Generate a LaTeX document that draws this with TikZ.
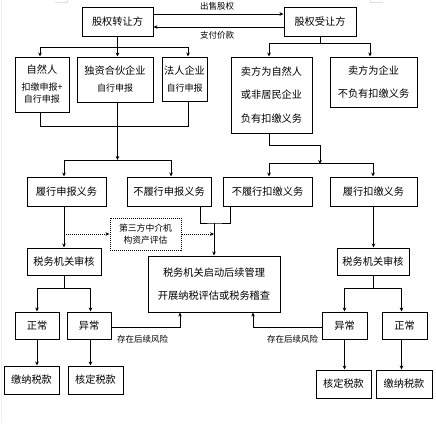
\documentclass[tikz,border=0pt]{standalone}
\usepackage{fontspec}
\setmainfont{Noto Sans CJK SC}
\usetikzlibrary{arrows.meta,calc}
\begin{document}
\begin{tikzpicture}[x=1pt,y=-1pt,
  box/.style={draw,line width=1pt,inner sep=0pt,align=center,font=\fontsize{10.2}{12}\selectfont},
  dbox/.style={draw,densely dotted,line width=1pt,inner sep=0pt,align=center,font=\fontsize{8.8}{12.5}\selectfont},
  ln/.style={line width=1pt},
  arr/.style={-{Stealth[length=4pt,width=3.6pt]}},
  dln/.style={densely dotted,line width=1pt},
  lbl/.style={inner sep=0pt,font=\fontsize{8.5}{10}\selectfont}]
\useasboundingbox (0,0) rectangle (436,423);
\fill[white] (0,0) rectangle (436,423);
% faint page marks
\draw[gray!25,line width=0.5pt] (55,2) -- (67,2) -- (67,0);
\draw[gray!25,line width=0.5pt] (370,0) -- (370,2) -- (383,2);
\draw[gray!12,line width=0.5pt] (1,0) -- (1,423);

% top row
\node[box,minimum width=71pt,minimum height=29pt] (A) at (117.5,21.5) {股权转让方};
\node[box,minimum width=72pt,minimum height=29pt] (B) at (320,21.5) {股权受让方};
% second row
\node[box,minimum width=54pt,minimum height=55pt] (C) at (42,84.5)
  {自然人\\[5pt]{\fontsize{9}{11}\selectfont 扣缴申报+}\\{\fontsize{9}{11}\selectfont 自行申报}};
\node[box,minimum width=76pt,minimum height=45pt] (D) at (115,79.5)
  {独资合伙企业\\[5pt]{\fontsize{9}{11}\selectfont 自行申报}};
\node[box,minimum width=45pt,minimum height=44pt] (E) at (184.5,79)
  {法人企业\\[5pt]{\fontsize{9}{11}\selectfont 自行申报}};
\node[box,minimum width=81pt,minimum height=76pt,font=\fontsize{10.2}{23.5}\selectfont] (F) at (271.5,95)
  {卖方为自然人\\或非居民企业\\负有扣缴义务};
\node[box,minimum width=87pt,minimum height=50pt,font=\fontsize{10.2}{23}\selectfont] (G) at (373.5,82)
  {卖方为企业\\不负有扣缴义务};
% third row
\node[box,minimum width=79pt,minimum height=29pt] (H) at (66.5,191.5) {履行申报义务};
\node[box,minimum width=84pt,minimum height=29pt] (I) at (169,191.5) {不履行申报义务};
\node[box,minimum width=89pt,minimum height=29pt] (J) at (267.5,191.5) {不履行扣缴义务};
\node[box,minimum width=87pt,minimum height=29pt] (K) at (373.5,191.5) {履行扣缴义务};
% middle
\node[dbox,minimum width=71pt,minimum height=32pt] (T) at (145.5,234) {第三方中介机\\构资产评估};
\node[box,minimum width=74pt,minimum height=27pt] (L) at (64,261.5) {税务机关审核};
\node[box,minimum width=72pt,minimum height=27pt] (M) at (373,261.5) {税务机关审核};
\node[box,minimum width=132pt,minimum height=56pt,font=\fontsize{10.2}{23}\selectfont] (N) at (214,284)
  {税务机关启动后续管理\\开展纳税评估或税务稽查};
% lower
\node[box,minimum width=44pt,minimum height=27pt] (O) at (37,325.5) {正常};
\node[box,minimum width=44pt,minimum height=27pt] (P) at (89,325.5) {异常};
\node[box,minimum width=45pt,minimum height=27pt] (Q) at (344.5,325.5) {异常};
\node[box,minimum width=45pt,minimum height=27pt] (R) at (404.5,325.5) {正常};
\node[box,minimum width=55pt,minimum height=28pt] (S) at (31.5,380) {缴纳税款};
\node[box,minimum width=55pt,minimum height=28pt] (U) at (95.5,380) {核定税款};
\node[box,minimum width=55pt,minimum height=28pt] (V) at (343.5,384) {核定税款};
\node[box,minimum width=56pt,minimum height=28pt] (W) at (404,384) {缴纳税款};

% top exchange
\draw[ln,arr] (A.east |- 0,14) -- (B.west |- 0,14);
\draw[ln,arr] (B.west |- 0,27) -- (A.east |- 0,27);
\node[lbl] (l1) at (217,6) {出售股权};
\node[lbl] (l2) at (217,35) {支付价款};

% left branch
\draw[ln] (A.south) -- (A.south |- 0,47) coordinate (j1);
\draw[ln,arr] (j1) -- (A.south |- D.north);
\draw[ln,arr] (j1) -| ([xshift=-2pt]C.north);
\draw[ln,arr] (j1) -| ([xshift=3.5pt]E.north);
% right branch
\draw[ln] (B.south) -- (B.south |- 0,43) coordinate (j2);
\draw[ln,arr] (j2) -| ([xshift=-2.5pt]F.north);
\draw[ln,arr] (j2) -| ([xshift=-3.5pt]G.north);

% merge left
\draw[ln] ([xshift=-2pt]C.south) -- ([xshift=-2pt]C.south |- 0,126) -- ([xshift=3.5pt]E.south |- 0,126) -- ([xshift=3.5pt]E.south);
\coordinate (j3) at (117.5,160);
\draw[ln,arr] (j3 |- D.south) -- (j3);
\draw[ln,arr] (j3) -| ([xshift=-2.5pt]H.north);
\draw[ln,arr] (j3) -| ([xshift=2pt]I.north);
% merge right
\coordinate (j4) at (320,163);
\draw[ln,arr] ([xshift=-2.5pt]F.south) -- ([xshift=-2.5pt]F.south |- 0,145) -| ([yshift=-1pt]j4);
\draw[ln,arr] (j4) -| ([xshift=1.5pt]J.north);
\draw[ln,arr] (j4) -| ([xshift=-0.5pt]K.north);

% non-compliance to management
\coordinate (j5) at (214,223);
\draw[ln] ([xshift=31pt]I.south) |- (j5) -| ([xshift=-37.5pt]J.south);
\draw[ln,arr] (j5) -- (j5 |- N.north);

% declaration path
\draw[ln,arr] (L.north |- H.south) -- (L.north);
\draw[dln,arr] (L.north |- T.west) -- (T.west);
\draw[dln,arr] (T.east) -- (T.east -| j5);
\draw[ln,arr] (K.south) -- (K.south |- M.north);

% left review
\draw[ln] (L.south) -- (L.south |- 0,288) coordinate (j6);
\draw[ln,arr] (j6) -| (O.north);
\draw[ln,arr] (j6) -| ([xshift=1.5pt]P.north);
\draw[ln,arr] (O.south) -- (O.south |- S.north);
\draw[ln,arr] ([xshift=1.5pt]P.south) -- ([xshift=1.5pt]P.south |- U.north);
\draw[ln,arr] ([yshift=-1.5pt]P.east) -| ([xshift=-34pt]N.south);
\node[lbl] (l3) at (142.5,339.5) {存在后续风险};

% right review
\draw[ln] (M.south) -- (M.south |- 0,288) coordinate (j7);
\draw[ln,arr] (j7) -| (Q.north);
\draw[ln,arr] (j7) -| ([xshift=-3pt]R.north);
\draw[ln,arr] (Q.south) -- (Q.south |- V.north);
\draw[ln,arr] ([xshift=-3pt]R.south) -- ([xshift=-3pt]R.south |- W.north);
\draw[ln,arr] ([yshift=-1.5pt]Q.west) -| ([xshift=39pt]N.south);
\node[lbl] (l4) at (292.5,339.5) {存在后续风险};
\end{tikzpicture}
\end{document}
